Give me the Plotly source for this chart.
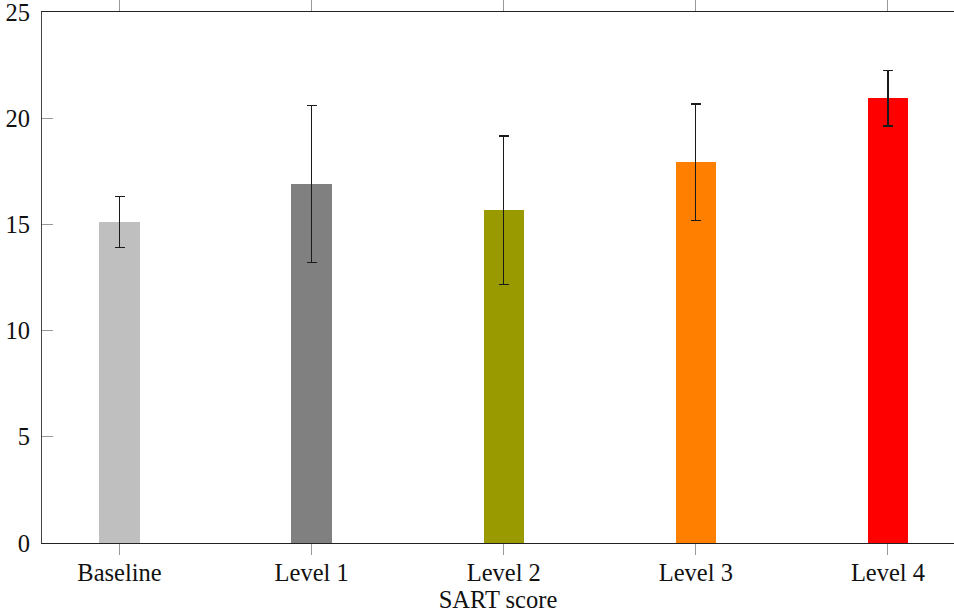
import plotly.graph_objects as go

categories = ["Baseline", "Level 1", "Level 2", "Level 3", "Level 4"]
values = [15.11, 16.90, 15.67, 17.92, 20.94]
errors = [1.20, 3.71, 3.49, 2.75, 1.31]
colors = ["#bfbfbf", "#808080", "#999900", "#ff8000", "#ff0000"]
y_ticks = [0, 5, 10, 15, 20, 25]

FONT = "Liberation Serif, DejaVu Serif, serif"
FS = 24.5

fig = go.Figure()
fig.add_trace(go.Bar(
    x=categories,
    y=values,
    width=0.21,
    marker=dict(color=colors, line=dict(width=0)),
    error_y=dict(type="data", array=errors, visible=True,
                 color="#1a1a1a", thickness=1.2, width=5),
    showlegend=False,
))

fig.update_layout(
    width=954, height=615,
    margin=dict(l=42, r=0, t=12, b=72),
    paper_bgcolor="white", plot_bgcolor="white",
    font=dict(family=FONT, size=FS, color="#111"),
    bargap=0,
)
fig.update_xaxes(
    type="category",
    range=[-0.4036, 4.3437],
    showgrid=False, zeroline=False,
    showline=True, linecolor="#222", linewidth=1.2, mirror="ticks",
    ticks="outside", ticklen=11, tickcolor="#999", tickwidth=1,
    ticklabelstandoff=-4,
    title=dict(text="SART score", font=dict(family=FONT, size=FS), standoff=6),
    tickfont=dict(family=FONT, size=FS),
)
fig.update_yaxes(
    range=[0, 25],
    tickvals=y_ticks,
    showgrid=False, zeroline=False,
    showline=True, linecolor="#444", linewidth=1.2, mirror=False,
    ticks="inside", ticklen=11, tickcolor="#999", tickwidth=1,
    ticklabelstandoff=6,
    ticklabeloverflow="allow",
    tickfont=dict(family=FONT, size=FS),
)

fig.write_html("out.html")
